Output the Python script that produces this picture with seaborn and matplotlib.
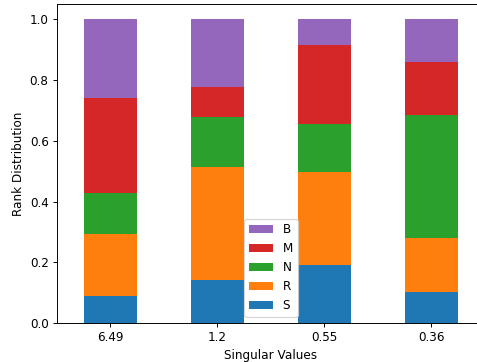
import matplotlib
matplotlib.use("Agg")
import matplotlib.pyplot as plt
import numpy as np
import seaborn as sns

# singular value buckets on the x axis
singular_values = ["6.49", "1.2", "0.55", "0.36"]

# share of each rank class per bucket (bottom to top)
S = [0.090, 0.143, 0.191, 0.102]
R = [0.203, 0.371, 0.306, 0.179]
N = [0.135, 0.164, 0.159, 0.403]
M = [0.312, 0.098, 0.258, 0.176]
B = [0.260, 0.224, 0.086, 0.140]

series_names = ["S", "R", "N", "M", "B"]
series_values = [S, R, N, M, B]

DPI = 86


def draw_rank_distribution():
    colors = sns.color_palette("tab10", n_colors=5)

    fig = plt.figure(figsize=(477 / DPI, 362 / DPI), dpi=DPI)
    # axes runs a bit past the right edge, like the original crop
    ax = fig.add_axes([0.1195, 0.1077, 0.897, 0.881])

    x = np.arange(len(singular_values))
    bottom = np.zeros(len(singular_values))
    for name, vals, color in zip(series_names, series_values, colors):
        ax.bar(x, vals, bottom=bottom, width=0.5, color=color, label=name)
        bottom += np.array(vals)

    ax.set_xticks(x)
    ax.set_xticklabels(singular_values)
    ax.set_xlim(-0.5, len(singular_values) - 0.5)
    ax.set_ylim(0, 1.05)
    ax.set_xlabel("Singular Values")
    ax.set_ylabel("Rank Distribution")

    handles, labels = ax.get_legend_handles_labels()
    ax.legend(handles[::-1], labels[::-1], loc="lower center")

    fig.savefig("out.png", dpi=DPI)


if __name__ == "__main__":
    draw_rank_distribution()
